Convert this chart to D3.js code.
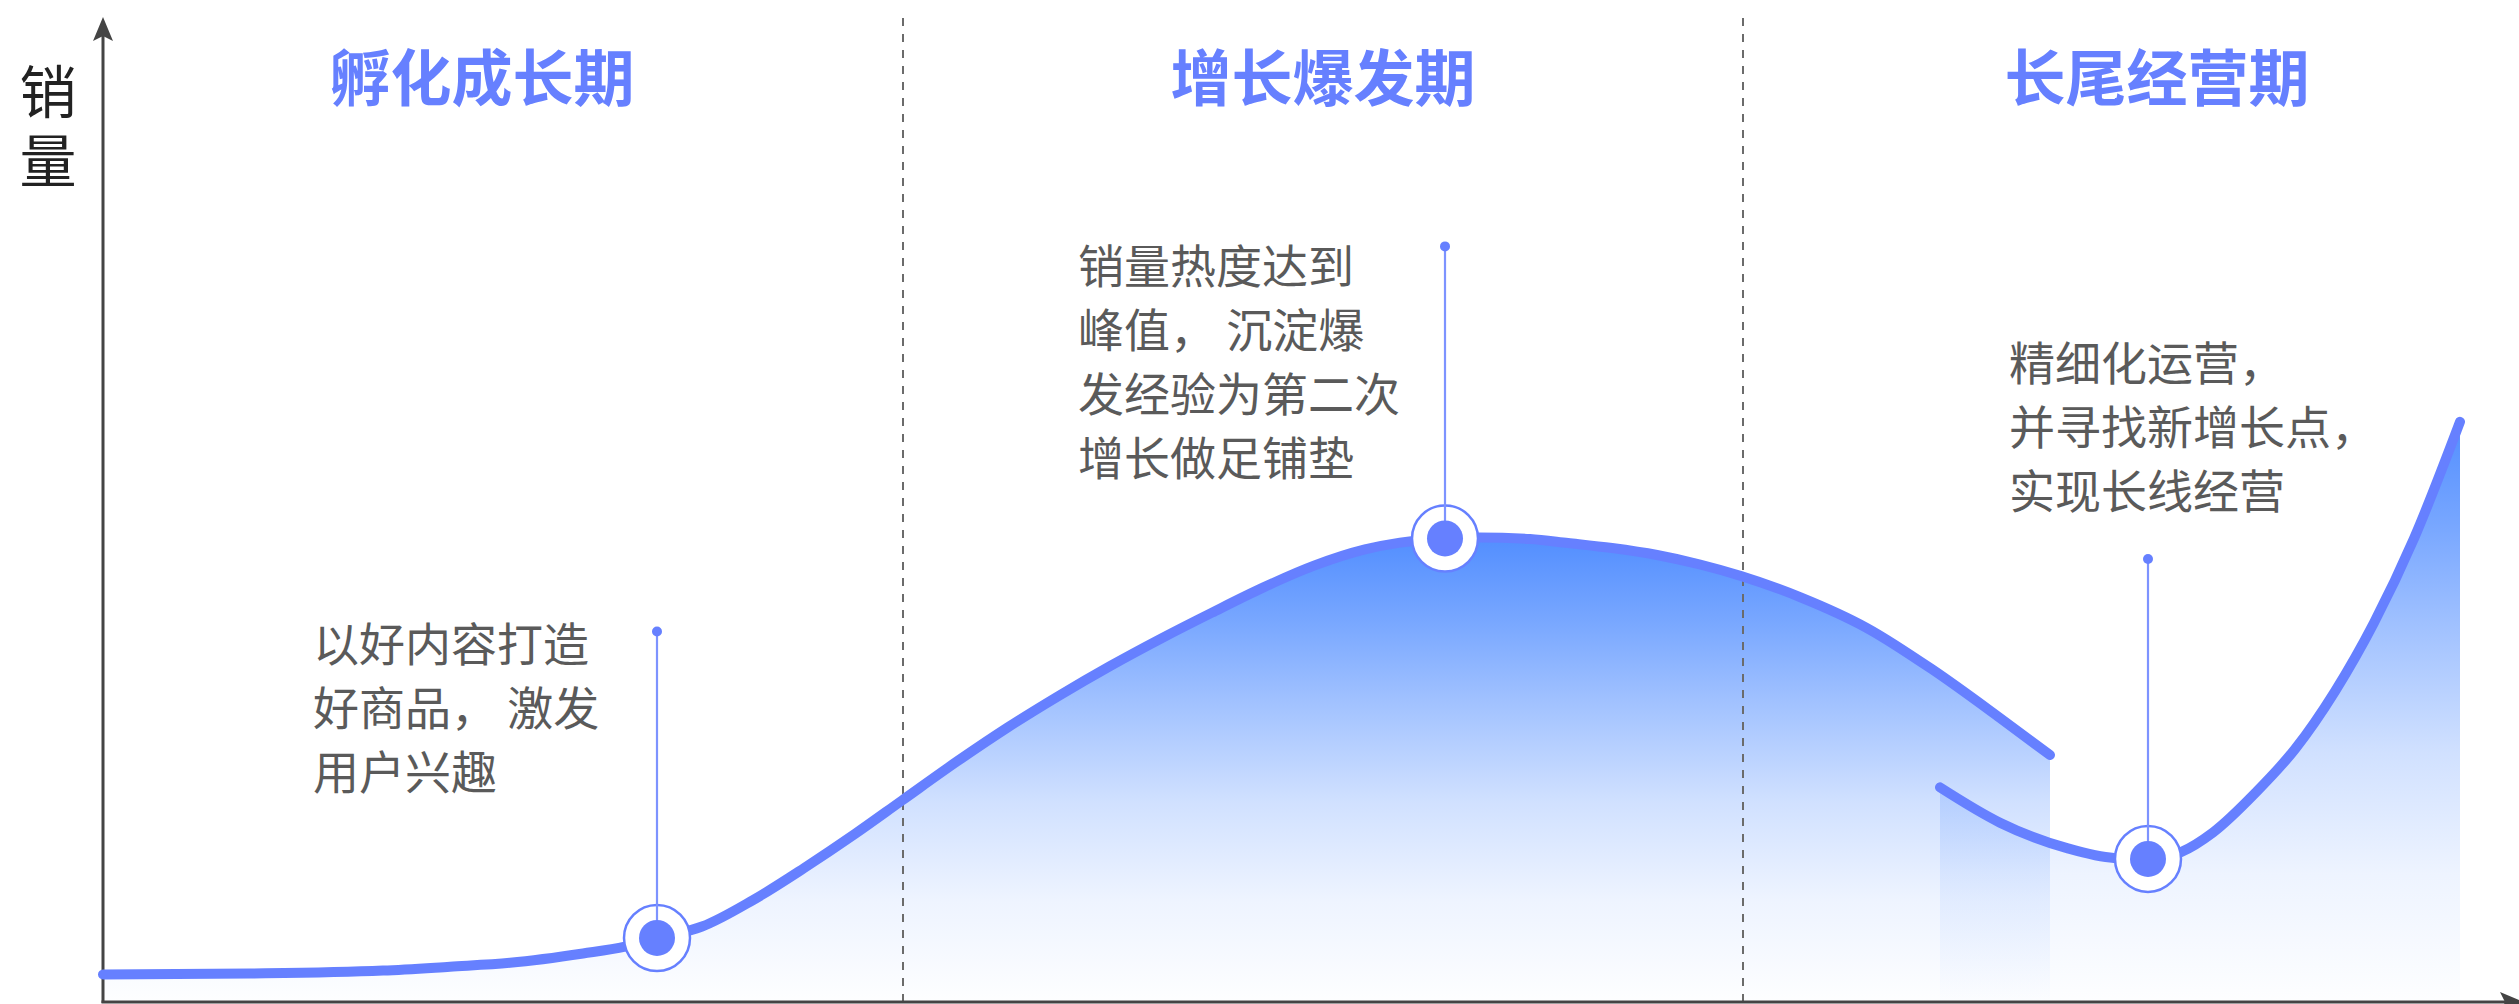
<!DOCTYPE html>
<html>
<head>
<meta charset="utf-8">
<script src="https://cdn.jsdelivr.net/npm/d3@7"></script>
<style>
  body { margin: 0; background: #fff; }
  svg { display: block; }
  text { font-family: "Noto Sans CJK SC", "Noto Sans", sans-serif; }
</style>
</head>
<body>
<div id="chart"></div>
<script>
  // stages along the time axis
  const stageNames = ["孵化成长期", "增长爆发期", "长尾经营期"];
  const stageCenters = [37.9, 122, 205.4];
  const stageDividers = [80, 164];

  // main growth curve (time, sales)
  const growthX = [0, 14.7, 28, 34.7, 40.7, 48, 52.2, 55.4, 59.9, 65, 70.1, 75.2, 79.9, 85.4, 90.5, 95.6, 100.7, 105.8, 110.9, 116, 121.1, 126.2, 129.7, 134.2, 137.6, 142.7, 146.5, 150.9, 155.4, 159.7, 163.8, 169.7, 176.4, 183, 189.7, 194.7];
  const growthY = [2.7, 2.8, 3.1, 3.5, 3.9, 4.85, 5.55, 6.43, 7.6, 10.3, 13.56, 17.05, 20.46, 24.44, 27.93, 31.15, 34.17, 36.98, 39.63, 42.18, 44.42, 46.08, 46.77, 47.2, 47.3, 47.14, 46.73, 46.22, 45.51, 44.54, 43.37, 41.22, 38.06, 33.78, 28.88, 25.1];

  // long tail curve (second growth)
  const tailX = [183.7, 189.7, 196.4, 201.1, 204.5, 207.8, 211, 215.3, 219.2, 223.2, 227.1, 231.1, 235.7];
  const tailY = [21.8, 18.2, 15.6, 14.6, 14.5, 15.2, 17.2, 21.3, 25.7, 31.6, 38.6, 47.2, 59.1];

  // key points with a pin and a note
  const markerX = [55.4, 134.2, 204.5];
  const markerY = [6.43, 47.2, 14.5];
  const pinY = [37.7, 77.0, 45.1];

  const noteLines = [
    ["以好内容打造", "好商品， 激发", "用户兴趣"],
    ["销量热度达到", "峰值， 沉淀爆", "发经验为第二次", "增长做足铺垫"],
    ["精细化运营，", "并寻找新增长点，", "实现长线经营"]
  ];
  const noteX = [21, 97.5, 190.6];
  const noteY = [36.7, 75.3, 65.4];

  const width = 2519, height = 1004;
  const blue = "#6680ff";

  const svg = d3.select("#chart")
    .append("svg")
    .attr("width", width)
    .attr("height", height);

  const x = d3.scaleLinear()
    .domain([0, 240])
    .range([103, 2503]);

  const y = d3.scaleLinear()
    .domain([0, 100])
    .range([1001, 21]);

  const defs = svg.append("defs");
  const grad = defs.append("linearGradient")
    .attr("id", "fillGrad")
    .attr("x1", 0).attr("y1", 0)
    .attr("x2", 0).attr("y2", 1);
  [[0, 1], [0.18, 0.78], [0.35, 0.55], [0.57, 0.27], [0.78, 0.1], [1, 0.01]].forEach(s => {
    grad.append("stop")
      .attr("offset", s[0])
      .attr("stop-color", "#528eff")
      .attr("stop-opacity", s[1]);
  });

  const growth = growthX.map((v, i) => ({x: v, y: growthY[i]}));
  const tail = tailX.map((v, i) => ({x: v, y: tailY[i]}));

  const area = d3.area()
    .x(d => x(d.x))
    .y0(y(0))
    .y1(d => y(d.y))
    .curve(d3.curveMonotoneX);

  const line = d3.line()
    .x(d => x(d.x))
    .y(d => y(d.y))
    .curve(d3.curveMonotoneX);

  svg.append("path").datum(growth).attr("d", area).attr("fill", "url(#fillGrad)");
  svg.append("path").datum(tail).attr("d", area).attr("fill", "url(#fillGrad)");

  // stage dividers
  svg.selectAll(".divider")
    .data(stageDividers)
    .enter()
    .append("line")
    .attr("class", "divider")
    .attr("x1", d => x(d)).attr("x2", d => x(d))
    .attr("y1", 18).attr("y2", y(0))
    .attr("stroke", "#6b6b6b")
    .attr("stroke-width", 2)
    .attr("stroke-dasharray", "8,8");

  // axes
  const axisColor = "#444";
  svg.append("line")
    .attr("x1", x(0)).attr("x2", x(0))
    .attr("y1", 30).attr("y2", y(0) + 2)
    .attr("stroke", axisColor).attr("stroke-width", 3);
  svg.append("path")
    .attr("d", `M${x(0)},17 L${x(0) + 10},41 L${x(0)},36 L${x(0) - 10},41 Z`)
    .attr("fill", axisColor);

  svg.append("line")
    .attr("x1", x(0) - 1.5).attr("x2", 2510)
    .attr("y1", y(0) + 1).attr("y2", y(0) + 1)
    .attr("stroke", axisColor).attr("stroke-width", 3);
  svg.append("path")
    .attr("d", `M2524,${y(0) + 1} L2500,${y(0) - 9} L2505,${y(0) + 1} L2500,${y(0) + 11} Z`)
    .attr("fill", axisColor);

  // vertical axis title
  svg.append("text")
    .attr("x", 48)
    .attr("y", 63)
    .style("writing-mode", "vertical-rl")
    .style("letter-spacing", "12px")
    .attr("font-size", 57)
    .attr("fill", "#222")
    .text("销量");

  // stage titles
  svg.selectAll(".stage")
    .data(stageNames)
    .enter()
    .append("text")
    .attr("class", "stage")
    .attr("x", (d, i) => x(stageCenters[i]))
    .attr("y", y(94.5))
    .attr("text-anchor", "middle")
    .attr("dominant-baseline", "central")
    .attr("font-size", 61)
    .attr("font-weight", "bold")
    .attr("fill", blue)
    .text(d => d);

  // curves
  [growth, tail].forEach(seg => {
    svg.append("path")
      .datum(seg)
      .attr("d", line)
      .attr("fill", "none")
      .attr("stroke", blue)
      .attr("stroke-width", 10)
      .attr("stroke-linecap", "round");
  });

  // markers with pins
  const markers = svg.selectAll(".marker")
    .data(markerX.map((v, i) => ({x: v, y: markerY[i], pin: pinY[i]})))
    .enter()
    .append("g")
    .attr("class", "marker");

  markers.append("circle")
    .attr("cx", d => x(d.x)).attr("cy", d => y(d.y))
    .attr("r", 33)
    .attr("fill", "#fff")
    .attr("stroke", blue)
    .attr("stroke-width", 2.5);

  markers.append("line")
    .attr("x1", d => x(d.x)).attr("x2", d => x(d.x))
    .attr("y1", d => y(d.pin)).attr("y2", d => y(d.y))
    .attr("stroke", "#7d93ff")
    .attr("stroke-width", 2.2);

  markers.append("circle")
    .attr("cx", d => x(d.x)).attr("cy", d => y(d.y))
    .attr("r", 18)
    .attr("fill", blue);

  markers.append("circle")
    .attr("cx", d => x(d.x)).attr("cy", d => y(d.pin))
    .attr("r", 5)
    .attr("fill", blue);

  // notes
  noteLines.forEach((lines, i) => {
    svg.append("g")
      .selectAll("text")
      .data(lines)
      .enter()
      .append("text")
      .attr("x", x(noteX[i]))
      .attr("y", (d, j) => y(noteY[i]) + j * 64)
      .attr("dominant-baseline", "central")
      .attr("font-size", 46)
      .attr("fill", "#5a5a5a")
      .text(d => d);
  });
</script>
</body>
</html>
